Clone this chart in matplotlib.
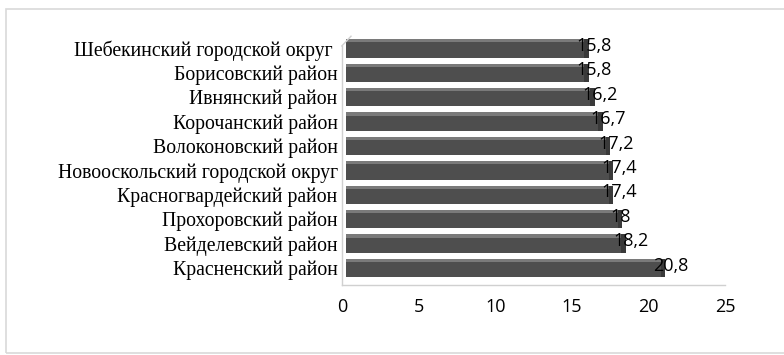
import matplotlib.pyplot as plt
from matplotlib.patches import Rectangle

# Districts, bottom to top
districts = ['Красненский район', 'Вейделевский район', 'Прохоровский район',
             'Красногвардейский район', 'Новооскольский городской округ',
             'Волоконовский район', 'Корочанский район', 'Ивнянский район',
             'Борисовский район', 'Шебекинский городской округ ']
values = [20.8, 18.2, 18, 17.4, 17.4, 17.2, 16.7, 16.2, 15.8, 15.8]
value_labels = ['20,8', '18,2', '18', '17,4', '17,4', '17,2', '16,7', '16,2', '15,8', '15,8']
x_ticks = [0, 5, 10, 15, 20, 25]

fig = plt.figure(figsize=(7.84, 3.55), dpi=100)
ax = fig.add_axes([0.436, 0.197, 0.489, 0.701])

pos = list(range(len(districts)))
shift = 0.3  # 3D offset of the bars
# main bar body
ax.barh(pos, values, height=0.76, color='#4e4e4e', left=shift)
# lighter top strip for the 3D look
ax.barh([p + 0.31 for p in pos], values, height=0.13, color='#7a7a7a', left=shift)
# darker end cap
ax.barh(pos, [0.3] * len(values), left=[v + shift - 0.3 for v in values],
        height=0.76, color='#3a3a3a')

for p, v, lab in zip(pos, values, value_labels):
    ax.text(v - 0.5, p + 0.1, lab, ha='left', va='center',
            fontsize=13, family='Open Sans', color='black')

ax.set_xlim(0, 25)
ax.set_ylim(-0.7, 9.5)
ax.set_xticks(x_ticks)
ax.set_xticklabels([str(t) for t in x_ticks], family='Open Sans', fontsize=13)
ax.set_yticks(pos)
ax.set_yticklabels(districts, family='Liberation Serif', fontsize=14.2)
ax.tick_params(axis='both', length=0)
ax.tick_params(axis='y', pad=3)
ax.tick_params(axis='x', pad=9)

for s in ['top', 'right']:
    ax.spines[s].set_visible(False)
for s in ['left', 'bottom']:
    ax.spines[s].set_color('#d0d0d0')
    ax.spines[s].set_linewidth(1.0)
ax.spines['left'].set_bounds(-0.7, 9.1)
# slanted back-wall edge
ax.plot([0, 0.6], [9.1, 9.5], color='#d0d0d0', lw=1.0, clip_on=False)

# chart frame
fig.patches.append(Rectangle((0.008, 0.005), 0.995, 0.97, transform=fig.transFigure,
                             fill=False, edgecolor='#d9d9d9', lw=1.2))

fig.savefig('out.png', dpi=100)
